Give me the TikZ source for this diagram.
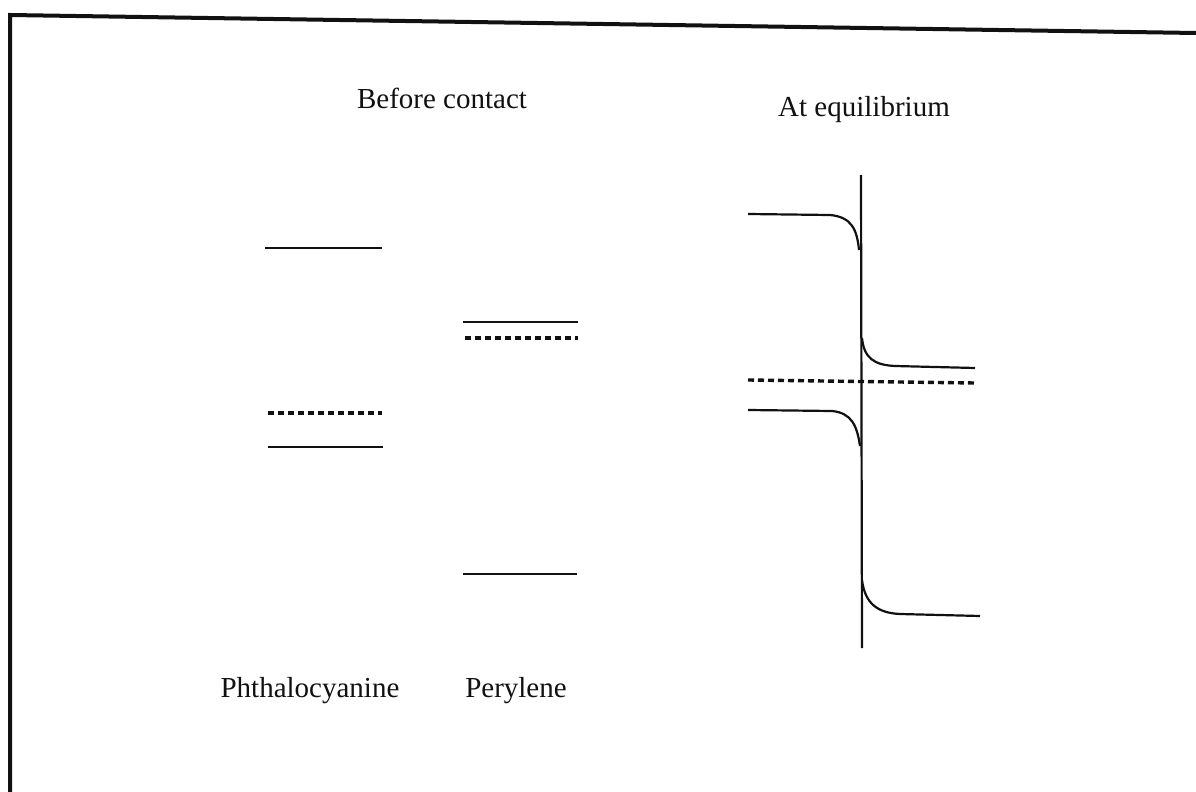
\documentclass[tikz,border=0pt]{standalone}
\usepackage{fontspec}
\setmainfont{Liberation Serif}
\usetikzlibrary{positioning}
\definecolor{ink}{HTML}{111111}
\newcommand{\LevelFont}{\fontsize{14.5}{17}\selectfont}
\tikzset{
  level/.style={ink, line width=1.1pt},
  fermi/.style={ink, line width=1.7pt, dash pattern=on 3pt off 2pt},
  band/.style={ink, line width=1.1pt, line join=round},
  frame/.style={ink, line width=2pt},
  lab/.style={font=\LevelFont, ink, anchor=base},
}
\begin{document}
\begin{tikzpicture}[x=0.5pt,y=-0.5pt]
  \useasboundingbox (0,0) rectangle (1196,792);
  \fill[white] (0,0) rectangle (1196,792);

  % scanned frame
  \draw[frame] (10,792) -- (10,15) -- (1196,33);

  % titles
  \node[lab] (before) at (442,109) {Before contact};
  \node[lab] (equil) at (864,117) {At equilibrium};

  % Phthalocyanine
  \draw[level] (265,248) -- (382,248);
  \draw[fermi] (268,413) -- (382,413);
  \draw[level] (268,447) -- (383,447);
  \node[lab] (pc) at (310,697) {Phthalocyanine};

  % Perylene
  \draw[level] (463,322) -- (578,322);
  \draw[fermi] (465,338) -- (578,338);
  \draw[level] (463,574) -- (577,574);
  \node[lab] (pery) at (516,697) {Perylene};

  % At equilibrium
  \draw[band] (861,175) -- (862,648);
  \draw[band] (748,214) -- (830,215) .. controls (852,217) and (857,230) .. (859,250);
  \draw[band] (862,338) .. controls (864,358) and (874,365) .. (895,366) -- (975,368);
  \draw[fermi] (748,380) -- (975,383);
  \draw[band] (748,410) -- (832,411) .. controls (852,413) and (857,426) .. (860,446);
  \draw[band] (862,580) .. controls (865,604) and (878,613) .. (900,614) -- (980,616);
\end{tikzpicture}
\end{document}
